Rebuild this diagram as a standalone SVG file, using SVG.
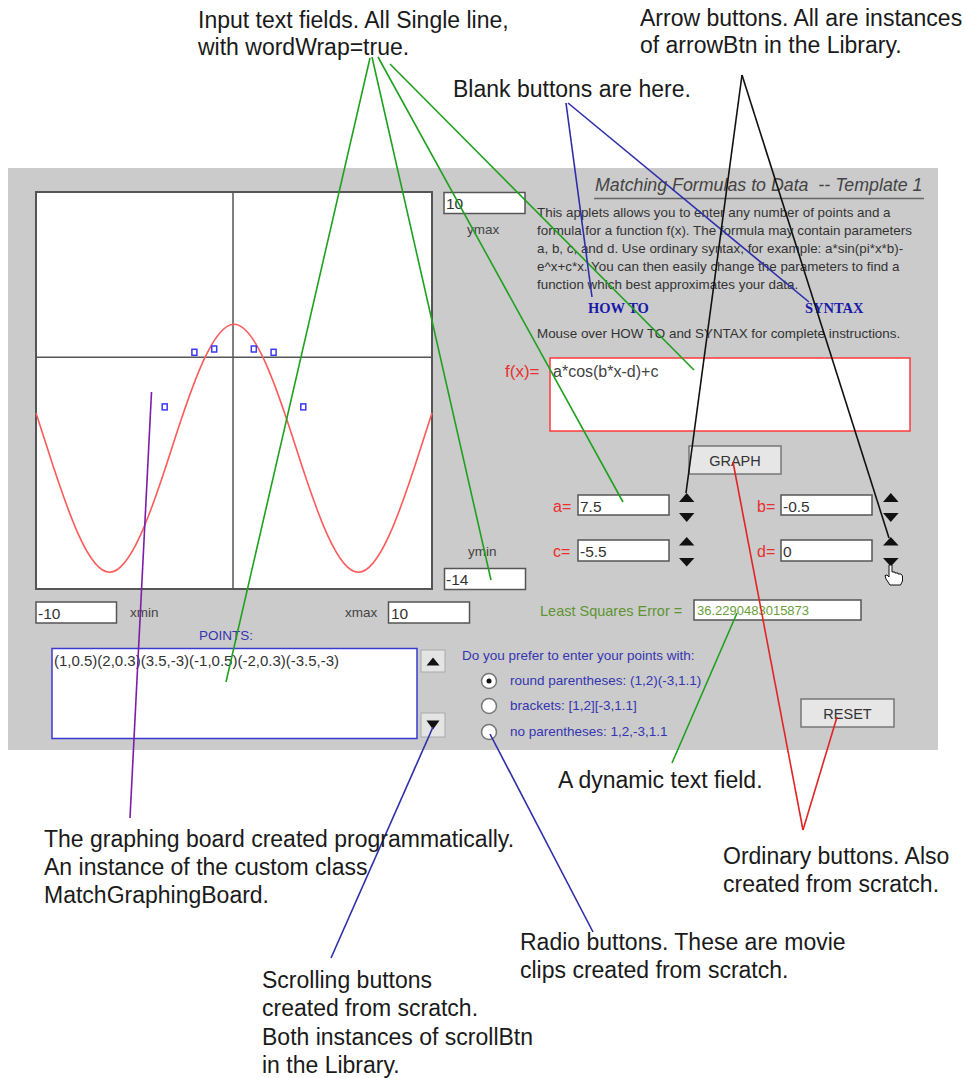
<svg xmlns="http://www.w3.org/2000/svg" width="965" height="1078" viewBox="0 0 965 1078">
<style>
text{font-family:"Liberation Sans",Arial,sans-serif;}
text.serif{font-family:"Liberation Serif","Times New Roman",serif;font-weight:bold;font-size:14.5px;fill:#1a1aaa;}
.ann{font-size:23px;fill:#1a1a1a;}
.para{font-size:13.4px;fill:#333;}
.fld{fill:#fff;stroke:#555;stroke-width:1.5;}
.fv{font-size:15.5px;fill:#333;}
.lbl{font-size:13.5px;fill:#444;}
.red{font-size:16px;fill:#e83030;}
.blue{font-size:13.5px;fill:#3535b0;}
.btn{fill:#e6e6e6;stroke:#777;stroke-width:1.5;}
.btxt{font-size:14.5px;fill:#333;text-anchor:middle;}
.tri{fill:#111;}
.pt{fill:none;stroke:#3a3af5;stroke-width:1.5;}
.radio{fill:#fff;stroke:#777;stroke-width:1.5;}
.c{fill:none;stroke-width:1.6;}
.g{stroke:#1fa01f;}
.b{stroke:#2e2eaa;}
.k{stroke:#111;}
.r{stroke:#e02525;}
.p{stroke:#7a1fa8;}
</style>

<g id="panel">
  <rect x="8" y="168" width="930" height="582" fill="#cbcbcb"/>
</g>

<g id="graph-board">
  <rect x="36" y="192" width="396" height="397" fill="#fff" stroke="#555" stroke-width="2"/>
  <line x1="233" y1="192" x2="233" y2="589" stroke="#555" stroke-width="1.5"/>
  <line x1="36" y1="357.3" x2="432" y2="357.3" stroke="#555" stroke-width="1.5"/>
  <path d="M36,413.08 C39.80,424.48 43.59,436.38 47.39,448.27 C68.12,513.22 88.86,572.32 109.59,572.32 C130.32,572.32 151.07,513.22 171.80,448.27 C192.53,383.32 213.27,324.22 234,324.22 C254.73,324.22 275.47,383.32 296.20,448.27 C316.93,513.22 337.68,572.32 358.41,572.32 C379.14,572.32 399.88,513.22 420.61,448.27 C424.41,436.38 428.20,424.48 432,413.08" fill="none" stroke="#ff5a5a" stroke-width="1.6"/>
  <rect class="pt" x="251.3" y="346" width="5" height="6"/>
  <rect class="pt" x="271.1" y="349.3" width="5" height="6"/>
  <rect class="pt" x="300.8" y="403.9" width="5" height="6"/>
  <rect class="pt" x="211.7" y="346" width="5" height="6"/>
  <rect class="pt" x="191.9" y="349.3" width="5" height="6"/>
  <rect class="pt" x="162.2" y="403.9" width="5" height="6"/>
</g>

<g id="ymax-field">
  <rect class="fld" x="444" y="192.5" width="81" height="21"/>
  <text class="fv" x="446" y="209">10</text>
  <text class="lbl" x="467" y="234">ymax</text>
</g>
<g id="ymin-field">
  <text class="lbl" x="468" y="556">ymin</text>
  <rect class="fld" x="444.5" y="568.5" width="81" height="21"/>
  <text class="fv" x="446" y="585">-14</text>
</g>
<g id="xmin-field">
  <rect class="fld" x="36" y="602" width="80.5" height="21"/>
  <text class="fv" x="38" y="619">-10</text>
  <text class="lbl" x="130" y="617">xmin</text>
</g>
<g id="xmax-field">
  <text class="lbl" x="345" y="617">xmax</text>
  <rect class="fld" x="388.5" y="602" width="81" height="21"/>
  <text class="fv" x="391" y="619">10</text>
</g>

<g id="title">
  <text x="595" y="191" font-size="17.8" font-style="italic" fill="#444" xml:space="preserve">Matching Formulas to Data  -- Template 1</text>
  <line x1="594" y1="198.5" x2="924" y2="198.5" stroke="#666" stroke-width="1.5"/>
</g>

<g id="description">
  <text class="para" x="537" y="217">This applets allows you to enter any number of points and a</text>
  <text class="para" x="537" y="235">formula for a function f(x). The formula may contain parameters</text>
  <text class="para" x="537" y="252.5">a, b, c, and d. Use ordinary syntax, for example: a*sin(pi*x*b)-</text>
  <text class="para" x="537" y="270.5">e^x+c*x. You can then easily change the parameters to find a</text>
  <text class="para" x="537" y="288.5">function which best approximates your data.</text>
</g>
<g id="howto-btn">
  <text class="serif" x="588" y="313">HOW TO</text>
</g>
<g id="syntax-btn">
  <text class="serif" x="805" y="313">SYNTAX</text>
</g>
<g id="mouseover-note">
  <text class="para" x="537" y="337.5">Mouse over HOW TO and SYNTAX for complete instructions.</text>
</g>

<g id="formula-field">
  <text x="505" y="377" font-size="17" fill="#e83030">f(x)=</text>
  <rect x="550" y="358" width="360" height="73" fill="#fff" stroke="#ff3b3b" stroke-width="1.5"/>
  <text x="553" y="377" font-size="16" fill="#444">a*cos(b*x-d)+c</text>
</g>

<g id="graph-button">
  <rect class="btn" x="689" y="446" width="92" height="28"/>
  <text class="btxt" x="735" y="465.5">GRAPH</text>
</g>

<g id="param-a">
  <text class="red" x="553" y="512">a=</text>
  <rect class="fld" x="578" y="495" width="91" height="20"/>
  <text class="fv" x="580" y="511.5">7.5</text>
</g>
<g id="param-c">
  <text class="red" x="553" y="557">c=</text>
  <rect class="fld" x="578" y="540" width="91" height="21"/>
  <text class="fv" x="580" y="556.5">-5.5</text>
</g>
<g id="param-b">
  <text class="red" x="757" y="512">b=</text>
  <rect class="fld" x="781" y="495" width="91" height="20"/>
  <text class="fv" x="783" y="511.5">-0.5</text>
</g>
<g id="param-d">
  <text class="red" x="757" y="557">d=</text>
  <rect class="fld" x="781" y="540" width="91" height="21"/>
  <text class="fv" x="783" y="556.5">0</text>
</g>

<g id="arrow-buttons">
  <path class="tri" d="M679,502 L686.7,493 L694.4,502 Z"/>
  <path class="tri" d="M679,513 L694.4,513 L686.7,522 Z"/>
  <path class="tri" d="M679,545.5 L686.7,537 L694.4,545.5 Z"/>
  <path class="tri" d="M679,558 L694.4,558 L686.7,566.5 Z"/>
  <path class="tri" d="M883,502 L890.8,493 L898.6,502 Z"/>
  <path class="tri" d="M883,513 L898.6,513 L890.8,522 Z"/>
  <path class="tri" d="M883,545.5 L890.8,537 L898.6,545.5 Z"/>
  <path class="tri" d="M883,558 L898.6,558 L890.8,566.5 Z"/>
  <path d="M889,565 L892,565 L892,572 L895,572 L895,573 L898,573 L898,574 L901,574 L902.5,576 L902.5,581 L900.5,585 L890,585 L886,579 L885,575.5 L887,575 L889,577 Z" fill="#fff" stroke="#111" stroke-width="1"/>
</g>

<g id="lse-field">
  <text x="540" y="616" font-size="14.5" fill="#5f9433">Least Squares Error =</text>
  <rect class="fld" x="694" y="600" width="167" height="20"/>
  <text x="697" y="615" font-size="13" fill="#6a9e3a">36.2290483015873</text>
</g>

<g id="points-field">
  <text class="blue" x="199" y="640">POINTS:</text>
  <rect x="52" y="648.5" width="365" height="90" fill="#fff" stroke="#3a3ad0" stroke-width="1.5"/>
  <text x="54" y="666" font-size="15" fill="#333">(1,0.5)(2,0.3)(3.5,-3)(-1,0.5)(-2,0.3)(-3.5,-3)</text>
</g>

<g id="scroll-buttons">
  <rect x="421" y="650" width="24" height="22" fill="#e4e4e4" stroke="#aaa" stroke-width="1"/>
  <path class="tri" d="M426.5,665.5 L433,657.5 L439.5,665.5 Z"/>
  <rect x="421" y="713" width="24" height="24" fill="#e4e4e4" stroke="#aaa" stroke-width="1"/>
  <path class="tri" d="M426.5,720.5 L439.5,720.5 L433,729.5 Z"/>
</g>

<g id="radio-group">
  <text class="blue" x="462" y="660">Do you prefer to enter your points with:</text>
  <circle class="radio" cx="489" cy="681" r="7.5"/>
  <circle cx="489" cy="681" r="2.5" fill="#111"/>
  <circle class="radio" cx="489" cy="706" r="7.5"/>
  <circle class="radio" cx="489" cy="732" r="7.5"/>
  <text class="blue" x="510" y="685">round parentheses: (1,2)(-3,1.1)</text>
  <text class="blue" x="510" y="710">brackets: [1,2][-3,1.1]</text>
  <text class="blue" x="510" y="736">no parentheses: 1,2,-3,1.1</text>
</g>

<g id="reset-button">
  <rect class="btn" x="801" y="699" width="93" height="28"/>
  <text class="btxt" x="847.5" y="719" font-size="14">RESET</text>
</g>

<g id="connectors">
  <line class="c g" x1="370" y1="58" x2="226" y2="682"/>
  <line class="c g" x1="372" y1="57" x2="491" y2="580"/>
  <line class="c g" x1="378" y1="57" x2="623" y2="502"/>
  <line class="c g" x1="390" y1="64" x2="694" y2="370"/>
  <line class="c g" x1="672" y1="763" x2="737" y2="613"/>
  <line class="c b" x1="566" y1="103" x2="592" y2="297"/>
  <line class="c b" x1="568" y1="103" x2="809" y2="302"/>
  <line class="c b" x1="433" y1="727" x2="331" y2="958"/>
  <line class="c b" x1="490" y1="734" x2="593" y2="932"/>
  <line class="c k" x1="742" y1="75" x2="686" y2="493"/>
  <line class="c k" x1="742" y1="75" x2="889" y2="538"/>
  <line class="c r" x1="803" y1="830" x2="733" y2="462"/>
  <line class="c r" x1="803" y1="830" x2="837" y2="717"/>
  <line class="c p" x1="151.5" y1="392" x2="130" y2="818"/>
</g>

<g id="note-input-fields">
  <text class="ann" x="198" y="28">Input text fields. All Single line,</text>
  <text class="ann" x="198" y="55">with wordWrap=true.</text>
</g>
<g id="note-arrow-buttons">
  <text class="ann" x="640" y="26">Arrow buttons. All are instances</text>
  <text class="ann" x="640" y="53">of arrowBtn in the Library.</text>
</g>
<g id="note-blank-buttons">
  <text class="ann" x="453" y="97">Blank buttons are here.</text>
</g>
<g id="note-dynamic">
  <text class="ann" x="558" y="788">A dynamic text field.</text>
</g>
<g id="note-ordinary">
  <text class="ann" x="723" y="864">Ordinary buttons. Also</text>
  <text class="ann" x="723" y="892">created from scratch.</text>
</g>
<g id="note-graphing-board">
  <text class="ann" x="44" y="847">The graphing board created programmatically.</text>
  <text class="ann" x="44" y="875">An instance of the custom class</text>
  <text class="ann" x="44" y="903">MatchGraphingBoard.</text>
</g>
<g id="note-radio">
  <text class="ann" x="520" y="950">Radio buttons. These are movie</text>
  <text class="ann" x="520" y="978">clips created from scratch.</text>
</g>
<g id="note-scrolling">
  <text class="ann" x="262" y="988">Scrolling buttons</text>
  <text class="ann" x="262" y="1016">created from scratch.</text>
  <text class="ann" x="262" y="1045">Both instances of scrollBtn</text>
  <text class="ann" x="262" y="1073">in the Library.</text>
</g>
</svg>
